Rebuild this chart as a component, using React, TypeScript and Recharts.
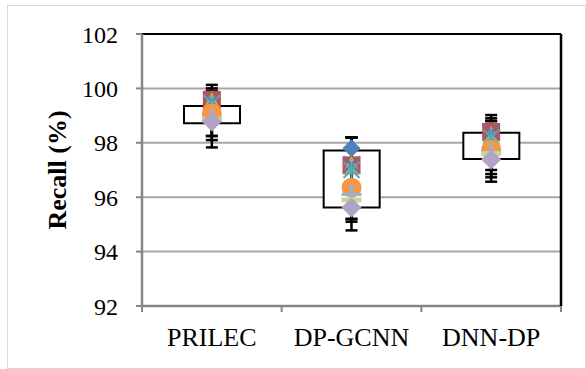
import React from 'react'
import { ComposedChart, Bar, Line, ErrorBar, XAxis, YAxis, CartesianGrid } from 'recharts'

// ── data ─────────────────────────────────────────────────────────────────────

const categories = ['PRILEC', 'DP-GCNN', 'DNN-DP']
const yTicks = [92, 94, 96, 98, 100, 102]

// box (lower / upper quartile)
const boxLow = [98.72, 95.62, 97.4]
const boxHigh = [99.35, 97.72, 98.37]

// runs, one marker per category
const run1 = [99.6, 97.8, 98.45]
const run2 = [99.58, 97.17, 98.4]
const run3 = [99.55, 97.2, 98.3]
const run4 = [99.5, 97.2, 98.4]
const run5 = [99.45, 97.0, 98.2]
const run6 = [99.08, 96.35, 97.74]
const run7 = [98.9, 96.1, 97.65]
const run8 = [98.85, 95.9, 97.6]
const run9 = [98.78, 95.62, 97.39]

// whisker ends (error bar caps) of the first runs
const capHigh1 = [100.13, 98.2, 99.02]
const capLow1 = [97.83, 94.78, 96.57]
const capHigh2 = [100.0, 98.2, 98.9]
const capLow2 = [98.1, 95.1, 96.73]
const capHigh3 = [99.9, 98.2, 98.8]
const capLow3 = [98.25, 95.2, 96.85]
const capHigh4 = [99.9, 98.2, 98.8]
const capLow4 = [98.25, 95.2, 97.0]

type Shape = 'diamond' | 'square' | 'triangle' | 'cross' | 'star' | 'circle' | 'plus' | 'dash'

interface RunDef {
  key: string
  values: number[]
  color: string
  shape: Shape
  size: number
  capHigh?: number[]
  capLow?: number[]
}

const runs: RunDef[] = [
  { key: 'r1', values: run1, color: '#4F81BD', shape: 'diamond', size: 9, capHigh: capHigh1, capLow: capLow1 },
  { key: 'r2', values: run2, color: '#C0504D', shape: 'square', size: 9, capHigh: capHigh2, capLow: capLow2 },
  { key: 'r3', values: run3, color: '#9BBB59', shape: 'triangle', size: 9, capHigh: capHigh3, capLow: capLow3 },
  { key: 'r4', values: run4, color: '#8064A2', shape: 'cross', size: 8, capHigh: capHigh4, capLow: capLow4 },
  { key: 'r5', values: run5, color: '#4BACC6', shape: 'star', size: 8 },
  { key: 'r6', values: run6, color: '#F79646', shape: 'circle', size: 10 },
  { key: 'r7', values: run7, color: '#95B3D7', shape: 'plus', size: 10 },
  { key: 'r8', values: run8, color: '#C3D69B', shape: 'dash', size: 10 },
  { key: 'r9', values: run9, color: '#B3A2C7', shape: 'diamond', size: 10 },
]

const data = categories.map((name, i) => {
  const row: Record<string, any> = { name, box: [boxLow[i], boxHigh[i]] }
  runs.forEach((r) => {
    row[r.key] = r.values[i]
    if (r.capHigh && r.capLow) {
      row[r.key + 'Err'] = [r.values[i] - r.capLow[i], r.capHigh[i] - r.values[i]]
    }
  })
  return row
})

const FONT = "'Liberation Serif', 'Times New Roman', serif"
const AXIS_GRAY = '#868686'

// ── marker ───────────────────────────────────────────────────────────────────

function Marker({ cx, cy, shape, color, size }: { cx: number; cy: number; shape: Shape; color: string; size: number }) {
  if (cx == null || cy == null) return null
  const s = size
  switch (shape) {
    case 'diamond':
      return <polygon points={`${cx},${cy - s} ${cx + s},${cy} ${cx},${cy + s} ${cx - s},${cy}`} fill={color} />
    case 'square':
      return <rect x={cx - s} y={cy - s} width={2 * s} height={2 * s} fill={color} />
    case 'triangle':
      return <polygon points={`${cx},${cy - s} ${cx + s},${cy + s} ${cx - s},${cy + s}`} fill={color} />
    case 'cross':
      return (
        <g stroke={color} strokeWidth={2.5}>
          <line x1={cx - s} y1={cy - s} x2={cx + s} y2={cy + s} />
          <line x1={cx - s} y1={cy + s} x2={cx + s} y2={cy - s} />
        </g>
      )
    case 'star':
      return (
        <g stroke={color} strokeWidth={2}>
          <line x1={cx - s} y1={cy - s} x2={cx + s} y2={cy + s} />
          <line x1={cx - s} y1={cy + s} x2={cx + s} y2={cy - s} />
          <line x1={cx} y1={cy - s} x2={cx} y2={cy + s} />
        </g>
      )
    case 'circle':
      return <circle cx={cx} cy={cy} r={s} fill={color} />
    case 'plus':
      return (
        <g stroke={color} strokeWidth={3}>
          <line x1={cx - s} y1={cy} x2={cx + s} y2={cy} />
          <line x1={cx} y1={cy - s} x2={cx} y2={cy + s} />
        </g>
      )
    case 'dash':
      return <rect x={cx - s} y={cy - 2.5} width={2 * s} height={5} fill={color} />
  }
  return null
}

// category label, with Excel-style tick marks on the band edges
function CategoryTick(props: any) {
  const { x, y, payload, index, visibleTicksCount } = props
  const half = payload?.offset ?? 0
  return (
    <g>
      <line x1={x - half} y1={y} x2={x - half} y2={y + 6} stroke={AXIS_GRAY} strokeWidth={2} />
      {index === visibleTicksCount - 1 && (
        <line x1={x + half} y1={y} x2={x + half} y2={y + 6} stroke={AXIS_GRAY} strokeWidth={2} />
      )}
      <text x={x} y={y + 40} textAnchor="middle" fontSize={26} fill="#000" fontFamily={FONT}>
        {payload.value}
      </text>
    </g>
  )
}

// ── chart ────────────────────────────────────────────────────────────────────

export default function App() {
  return (
    <div style={{ position: 'absolute', left: 0, top: 0, width: 586, height: 369, background: '#fff' }}>
      <style>{`.recharts-wrapper text { font-family: ${FONT} !important; }`}</style>
      <div
        style={{
          position: 'absolute',
          left: 7,
          top: 5,
          width: 577,
          height: 362,
          border: '1px solid #d9d9d9',
        }}
      />
      <div style={{ position: 'absolute', left: 0, top: 0 }}>
        <ComposedChart
          width={586}
          height={369}
          data={data}
          margin={{ top: 33, right: 24, bottom: 22, left: 82 }}
        >
          <CartesianGrid horizontal vertical={false} stroke="#a6a6a6" strokeWidth={2} />
          <XAxis
            dataKey="name"
            height={41}
            axisLine={{ stroke: AXIS_GRAY, strokeWidth: 2.5 }}
            tickLine={false}
            tickSize={0}
            tickMargin={0}
            interval={0}
            tick={<CategoryTick />}
          />
          <XAxis
            xAxisId="top"
            orientation="top"
            dataKey="name"
            height={1}
            tick={false}
            tickLine={false}
            axisLine={{ stroke: '#000', strokeWidth: 2 }}
          />
          <YAxis
            type="number"
            domain={[92, 102]}
            ticks={yTicks}
            width={60}
            tickSize={6}
            tickMargin={18}
            tickLine={{ stroke: AXIS_GRAY, strokeWidth: 2 }}
            axisLine={{ stroke: AXIS_GRAY, strokeWidth: 2.5 }}
            tick={{ fontSize: 24, fill: '#000' }}
            label={{
              value: 'Recall (%)',
              angle: -90,
              position: 'center',
              dx: -55,
              style: { fontSize: 26, fontWeight: 'bold', fill: '#000' },
            }}
          />
          <YAxis
            yAxisId="r"
            orientation="right"
            type="number"
            domain={[92, 102]}
            width={1}
            tick={false}
            tickLine={false}
            axisLine={{ stroke: '#000', strokeWidth: 2.5 }}
          />
          <Bar
            dataKey="box"
            barSize={56}
            fill="#fff"
            stroke="#000"
            strokeWidth={2}
            isAnimationActive={false}
          />
          {runs
            .filter((r) => r.capHigh)
            .map((r) => (
              <Line
                key={r.key + 'w'}
                dataKey={r.key}
                stroke="none"
                dot={false}
                activeDot={false}
                isAnimationActive={false}
              >
                <ErrorBar dataKey={r.key + 'Err'} direction="y" width={6} stroke="#000" strokeWidth={2.5} />
              </Line>
            ))}
          {runs.map((r) => (
            <Line
              key={r.key}
              dataKey={r.key}
              stroke="none"
              activeDot={false}
              isAnimationActive={false}
              dot={(p: any) => (
                <Marker key={r.key + p.index} cx={p.cx} cy={p.cy} shape={r.shape} color={r.color} size={r.size} />
              )}
            />
          ))}
        </ComposedChart>
      </div>
    </div>
  )
}
